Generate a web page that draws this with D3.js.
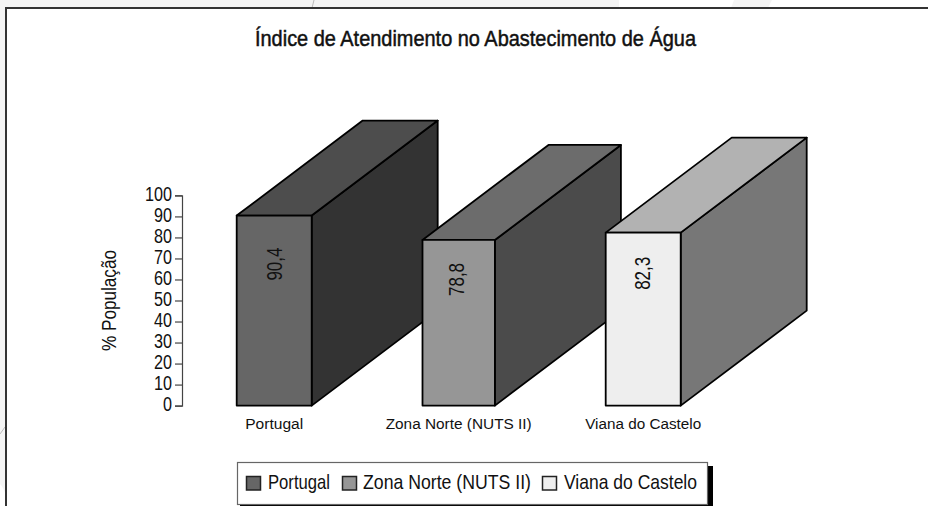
<!DOCTYPE html>
<html><head><meta charset="utf-8">
<script src="https://cdnjs.cloudflare.com/ajax/libs/d3/7.8.5/d3.min.js"></script>
<style>html,body{margin:0;padding:0;background:#fff}svg{display:block}text{font-family:"Liberation Sans",Arial,sans-serif;fill:#111}</style>
</head><body><div id="chart"></div>
<script>
const categories = ["Portugal", "Zona Norte (NUTS II)", "Viana do Castelo"];
const values = [90.4, 78.8, 82.3];
const valueLabels = ["90,4", "78,8", "82,3"];
const yTicks = [0, 10, 20, 30, 40, 50, 60, 70, 80, 90, 100];
const frontColors = ["#666666", "#969696", "#eeeeee"];
const topColors = ["#4d4d4d", "#6c6c6c", "#b2b2b2"];
const sideColors = ["#333333", "#4b4b4b", "#777777"];
const title = "Índice de Atendimento no Abastecimento de Água";
const yTitle = "% População";

const W = 928, H = 506;
const svg = d3.select("#chart").append("svg").attr("width", W).attr("height", H);

// page backdrop around the chart frame
svg.append("rect").attr("width", W).attr("height", H).attr("fill", "#f4f4f4");
svg.append("path").attr("d", "M619 0H734L731 8H619Z").attr("fill", "#fff");
svg.append("path").attr("d", "M772 0H928V8H768Z").attr("fill", "#fff");
svg.append("path").attr("d", "M0 484Q4 488 6 496V506H0Z").attr("fill", "#fff");
svg.append("path").attr("d", "M312 8L314 0M0 434L5 427").attr("stroke", "#bbb").attr("fill", "none");

// frame
svg.append("rect").attr("x", 6).attr("y", 8).attr("width", W + 20).attr("height", H + 20)
  .attr("fill", "#fff").attr("stroke", "#333").attr("stroke-width", 2);

function fit(sel, len) { return sel.attr("textLength", len).attr("lengthAdjust", "spacingAndGlyphs"); }

// title
fit(svg.append("text").attr("x", 255).attr("y", 46).attr("font-size", 22.5)
  .attr("stroke", "#111").attr("stroke-width", 0.5).text(title), 441);

// scales
const y = d3.scaleLinear().domain([0, 100]).range([405.6, 195.4]);
const x = d3.scaleBand().domain(categories).range([236.7, 680.7]).paddingInner(1 - 75 / 184.5).paddingOuter(0);
const depthX = 126, depthY = 95;
const bandInset = [0, 1.3, 0];
const labelShiftY = [48.5, 39.5, 40.7];
const labelShiftX = [8, 5, 7];

// axis
const axis = d3.axisLeft(y).tickValues(yTicks).tickSize(7).tickPadding(3).tickSizeOuter(7);
const gAxis = svg.append("g").attr("transform", "translate(182,0)").call(axis);
gAxis.selectAll("path,line").attr("stroke", "#444").attr("stroke-width", 1.2);
gAxis.selectAll("text").attr("font-size", 20.5).attr("font-family", null).attr("dy", null)
  .attr("y", 4.7).attr("fill", "#111").each(function (d) {
    fit(d3.select(this), String(d).length * 9);
  });

// y title
fit(svg.append("text").attr("transform", "translate(116,351) rotate(-90)").attr("font-size", 21).text(yTitle), 101);

// bars
const bars = svg.selectAll("g.bar").data(categories).join("g").attr("class", "bar");
const edge = g => g.attr("stroke", "#000").attr("stroke-width", 1.8).attr("stroke-linejoin", "round");
const L = (c, i) => x(c) + bandInset[i];
const R = (c, i) => x(c) + x.bandwidth() - bandInset[i];
const poly = pts => "M" + pts.map(p => p.join(",")).join("L") + "Z";

bars.append("path").call(edge).attr("fill", (c, i) => sideColors[i]).attr("d", (c, i) => poly([
  [R(c, i), y(values[i])], [R(c, i) + depthX, y(values[i]) - depthY],
  [R(c, i) + depthX, y(0) - depthY], [R(c, i), y(0)]]));
bars.append("path").call(edge).attr("fill", (c, i) => topColors[i]).attr("d", (c, i) => poly([
  [L(c, i), y(values[i])], [L(c, i) + depthX, y(values[i]) - depthY],
  [R(c, i) + depthX, y(values[i]) - depthY], [R(c, i), y(values[i])]]));
bars.append("rect").call(edge).attr("fill", (c, i) => frontColors[i])
  .attr("x", (c, i) => L(c, i)).attr("width", (c, i) => R(c, i) - L(c, i))
  .attr("y", (c, i) => y(values[i])).attr("height", (c, i) => y(0) - y(values[i]));

// value labels
bars.append("text").attr("font-size", 21.5).attr("text-anchor", "middle")
  .attr("transform", (c, i) => `translate(${x(c) + x.bandwidth() / 2 + labelShiftX[i]},${y(values[i]) + labelShiftY[i]}) rotate(-90)`)
  .text((c, i) => valueLabels[i]).attr("textLength", 33).attr("lengthAdjust", "spacingAndGlyphs");

// category labels
const catWidths = [58, 146, 116];
svg.selectAll("text.cat").data(categories).join("text").attr("class", "cat")
  .attr("font-size", 15.5).attr("y", 429)
  .attr("x", (c, i) => x(c) + x.bandwidth() / 2 - catWidths[i] / 2)
  .attr("textLength", (c, i) => catWidths[i]).attr("lengthAdjust", "spacingAndGlyphs")
  .text(c => c);

// legend
svg.append("rect").attr("x", 707).attr("y", 466).attr("width", 6).attr("height", 40).attr("fill", "#000");
svg.append("rect").attr("x", 240).attr("y", 504).attr("width", 473).attr("height", 2).attr("fill", "#000");
svg.append("rect").attr("x", 237.5).attr("y", 462.5).attr("width", 470).attr("height", 42)
  .attr("fill", "#fff").attr("stroke", "#666").attr("stroke-width", 1.2);
const swatchX = [246.5, 342.5, 542.5], legTextX = [268, 363, 564], legTextW = [62, 168, 133];
const leg = svg.selectAll("g.leg").data(categories).join("g").attr("class", "leg");
leg.append("rect").attr("x", (c, i) => swatchX[i]).attr("y", 476.5).attr("width", 14).attr("height", 13.5)
  .attr("fill", (c, i) => frontColors[i]).attr("stroke", "#222").attr("stroke-width", 1.5);
leg.append("text").attr("font-size", 21).attr("y", 489).attr("x", (c, i) => legTextX[i])
  .attr("textLength", (c, i) => legTextW[i]).attr("lengthAdjust", "spacingAndGlyphs").text(c => c);
</script></body></html>
